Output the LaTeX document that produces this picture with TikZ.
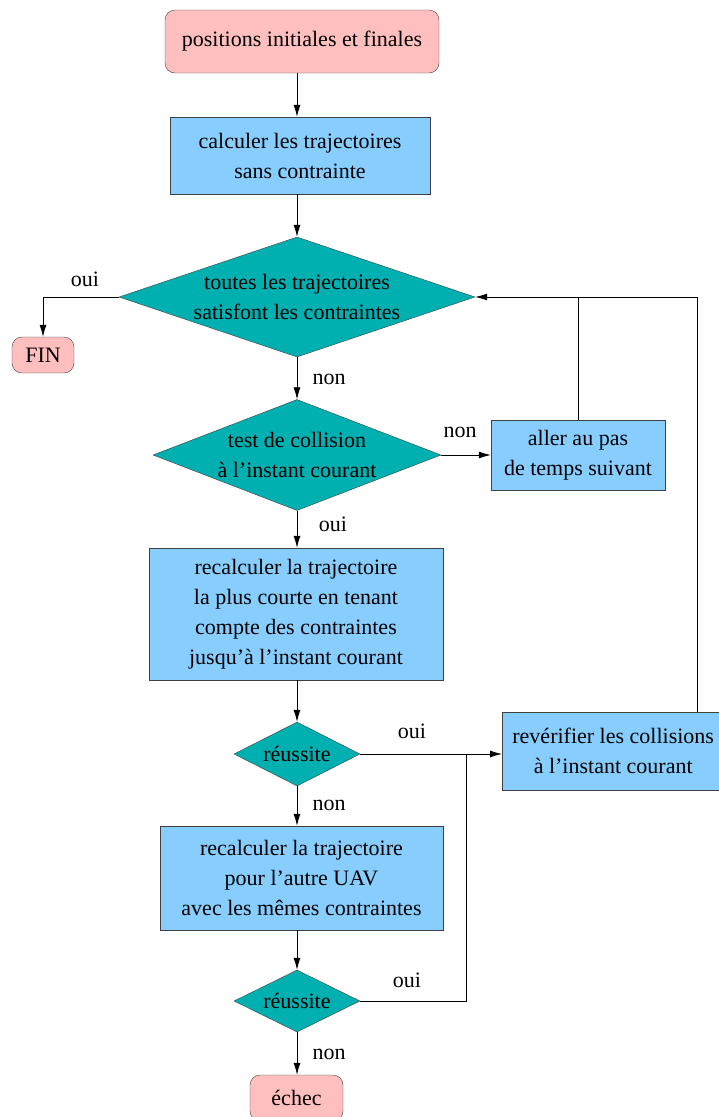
\documentclass[tikz,border=0pt]{standalone}
\usepackage{fontspec}
\setmainfont{Liberation Serif}
\usetikzlibrary{arrows.meta,shapes.geometric}

\definecolor{termpink}{RGB}{255,191,191}
\definecolor{actblue}{RGB}{135,206,255}
\definecolor{testteal}{RGB}{0,175,175}

\begin{document}
\begin{tikzpicture}[x=1pt,y=-1pt,>={Latex[length=12pt,width=7pt]}, every node/.style={font=\fontsize{22}{30}\selectfont,align=center}]
    \tikzset{term/.style={draw=black!75,fill=termpink,rounded corners=10pt,inner sep=0pt}}
    \tikzset{action/.style={draw=black!75,fill=actblue,inner sep=0pt}}
    \tikzset{test/.style={diamond,draw=black!75,fill=testteal,inner sep=0pt}}
    \tikzset{flow/.style={->,line width=0.8pt}}
    \tikzset{wire/.style={line width=0.8pt}}
    \tikzset{lbl/.style={inner sep=0pt}}

    \useasboundingbox (0,0) rectangle (719,1117);

    % Start and first computation
    \node[term,minimum width=274,minimum height=63] (start) at (302,41.5) {positions initiales et finales};
    \node[action,minimum width=260,minimum height=77] (calc) at (300,155.5) {calculer les trajectoires\\sans contrainte};

    % Global test
    \node[test,aspect=3,minimum width=356,minimum height=120] (toutes) at (297,297) {toutes les trajectoires\\satisfont les contraintes};
    \node[term,minimum width=62,minimum height=36] (fin) at (43,355) {FIN};
    \node[lbl] (oui1) at (85,279) {oui};
    \node[lbl] (non1) at (329,379) {non};

    % Collision test
    \node[test,aspect=2.6,minimum width=288,minimum height=111] (collision) at (297,455) {test de collision\\à l’instant courant};
    \node[action,minimum width=174,minimum height=70] (aller) at (578,455) {aller au pas\\de temps suivant};
    \node[lbl] (non2) at (460,432) {non};
    \node[lbl] (oui2) at (333,524) {oui};

    % Recompute first UAV
    \node[action,minimum width=294,minimum height=132] (recalc) at (296,614) {recalculer la trajectoire\\la plus courte en tenant\\compte des contraintes\\jusqu’à l’instant courant};
    \node[test,aspect=2,minimum width=126,minimum height=64] (reussite1) at (297,754) {réussite};
    \node[action,minimum width=222,minimum height=78,anchor=west] (recheck) at (502,751) {revérifier les collisions\\à l’instant courant};
    \node[lbl] (oui3) at (412,731) {oui};
    \node[lbl] (non3) at (329,805) {non};

    % Recompute other UAV
    \node[action,minimum width=283,minimum height=104] (autre) at (301.5,878) {recalculer la trajectoire\\pour l’autre UAV\\avec les mêmes contraintes};
    \node[test,aspect=2,minimum width=126,minimum height=62] (reussite2) at (297,1001) {réussite};
    \node[lbl] (oui4) at (407,980) {oui};
    \node[lbl] (non4) at (329,1054) {non};
    \node[term,minimum width=93,minimum height=46] (echec) at (296.5,1098) {échec};

    % Main flow
    \draw[flow] (start.south -| toutes.north) -- (calc.north -| toutes.north);
    \draw[flow] (calc.south -| toutes.north) -- (toutes.north);
    \draw[flow] (toutes.west) -| (fin.north);
    \draw[flow] (toutes.south) -- (collision.north);
    \draw[flow] (collision.east) -- (collision.east -| aller.west);
    \draw[flow] (collision.south) -- (recalc.north -| collision.south);
    \draw[flow] (recalc.south -| reussite1.north) -- (reussite1.north);
    \draw[flow] (reussite1.east) -- (reussite1.east -| recheck.west);
    \draw[flow] (reussite1.south) -- (autre.north -| reussite1.south);
    \draw[flow] (autre.south -| reussite2.north) -- (reussite2.north);
    \draw[flow] (reussite2.south) -- (echec.north -| reussite2.south);

    % Loops back to the global test
    \coordinate (back) at (697,297);
    \coordinate (merge) at (466,754);
    \draw[wire] (aller.north) -- (aller.north |- toutes.east);
    \draw[flow] (recheck.north -| back) -- (back) -- (toutes.east);
    \draw[wire] (reussite2.east) -| (merge);
\end{tikzpicture}
\end{document}
